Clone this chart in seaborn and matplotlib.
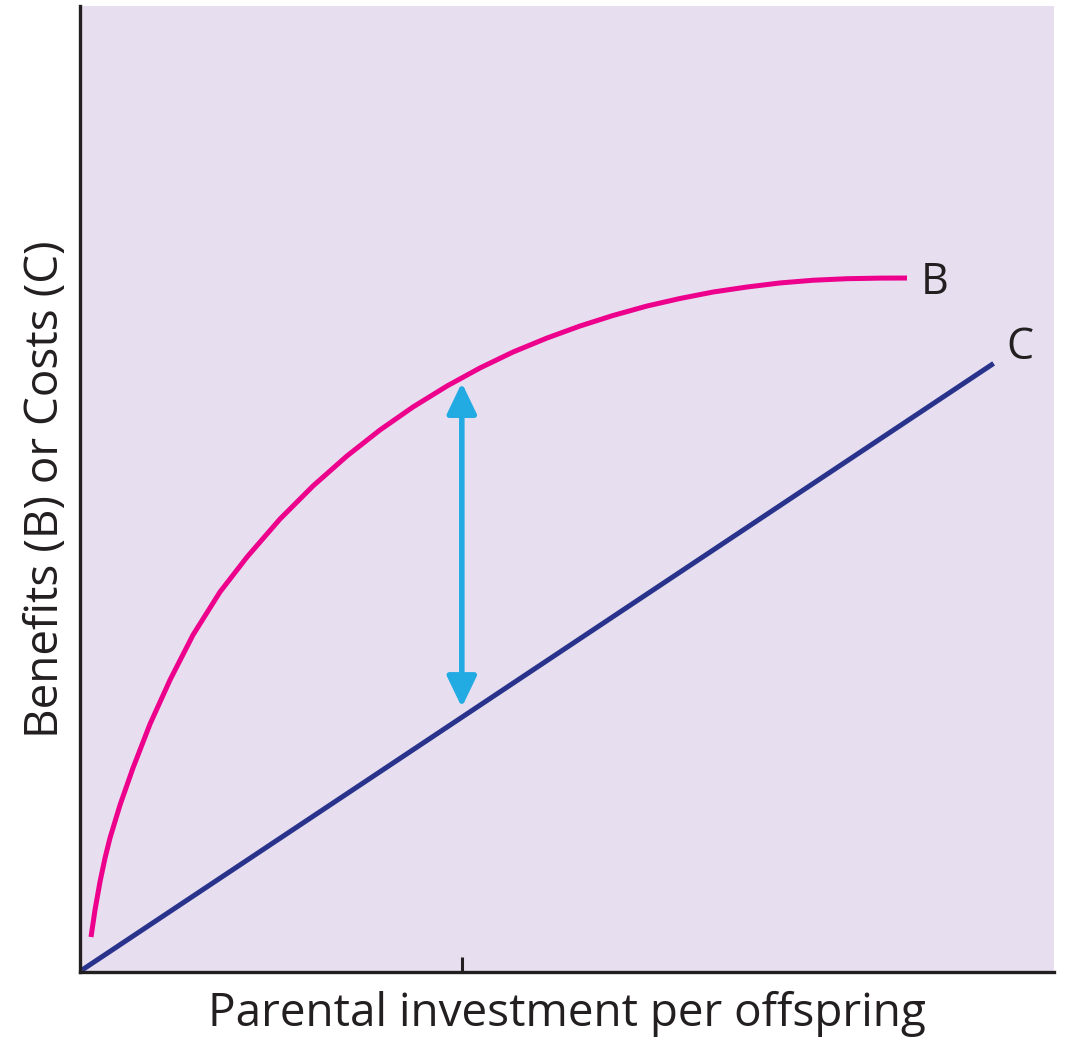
import matplotlib
matplotlib.use("Agg")
import matplotlib.pyplot as plt
import seaborn as sns
import pandas as pd

# Benefit curve B: parental investment vs. benefit
investment = [0.113, 0.154, 0.205, 0.257, 0.308, 0.411, 0.544, 0.719, 0.924,
              1.160, 1.437, 1.715, 2.053, 2.392, 2.741, 3.080, 3.419, 3.768,
              4.107, 4.446, 4.795, 5.133, 5.472, 5.821, 6.160, 6.499, 6.848,
              7.187, 7.526, 7.875, 8.214, 8.491]
benefit = [0.362, 0.642, 0.932, 1.180, 1.387, 1.729, 2.112, 2.567, 3.023,
           3.489, 3.934, 4.296, 4.689, 5.031, 5.342, 5.611, 5.849, 6.066,
           6.253, 6.418, 6.563, 6.687, 6.796, 6.894, 6.972, 7.039, 7.091,
           7.133, 7.161, 7.177, 7.183, 7.184]

# Cost line C
cost_investment = [0.02, 9.38]
cost = [0.02, 6.30]

# Net benefit arrow at the marked investment level
arrow_x = 3.92
arrow_low = 2.74
arrow_high = 6.10

curve_labels = ["B", "C"]
label_pos = [(8.78, 7.13), (9.65, 6.46)]

BG = "#e7dff0"
MAGENTA = "#ec008c"
NAVY = "#29338c"
CYAN = "#22aae2"
INK = "#231f20"

sns.set_style("white", {"axes.facecolor": BG})
plt.rcParams["font.family"] = ["Open Sans", "DejaVu Sans"]

fig = plt.figure(figsize=(10.66, 10.38), dpi=100)
ax = fig.add_axes([80 / 1066, 66 / 1038, 974 / 1066, 966 / 1038])

df_b = pd.DataFrame({"x": investment, "y": benefit})
df_c = pd.DataFrame({"x": cost_investment, "y": cost})
sns.lineplot(data=df_b, x="x", y="y", ax=ax, color=MAGENTA, lw=3.6, sort=False,
             solid_joinstyle="round", solid_capstyle="butt")
sns.lineplot(data=df_c, x="x", y="y", ax=ax, color=NAVY, lw=3.6, sort=False,
             solid_capstyle="butt")

ax.annotate("", xy=(arrow_x, arrow_high), xytext=(arrow_x, arrow_low),
            arrowprops=dict(arrowstyle="<|-|>,head_length=0.75,head_width=0.36",
                            mutation_scale=25, color=CYAN, lw=4.0,
                            shrinkA=0, shrinkB=0))

for txt, (tx, ty) in zip(curve_labels, label_pos):
    ax.text(tx, ty, txt, fontsize=31, color=INK, ha="center", va="center")

ax.set_xlim(0, 10)
ax.set_ylim(0, 10)
ax.set_xticks([arrow_x])
ax.set_xticklabels([""])
ax.set_yticks([])
ax.tick_params(axis="x", bottom=True, direction="in", length=11, width=2.2,
               color=INK)

for side in ["top", "right"]:
    ax.spines[side].set_visible(False)
for side in ["left", "bottom"]:
    ax.spines[side].set_color(INK)
    ax.spines[side].set_linewidth(2.4)

ax.set_xlabel("Parental investment per offspring", fontsize=33, color=INK, labelpad=10)
ax.set_ylabel("Benefits (B) or Costs (C)", fontsize=33, color=INK, labelpad=8)

fig.savefig("out.png", dpi=100, facecolor="white")
